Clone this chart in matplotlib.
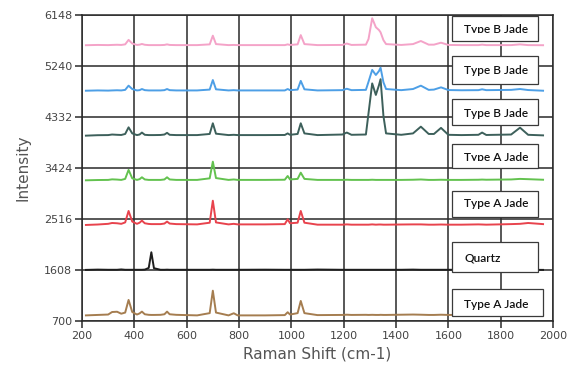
import matplotlib
matplotlib.use("Agg")
import matplotlib.pyplot as plt
from matplotlib.patches import Rectangle

# Raman shift sample points (cm-1)
shift = [215, 260, 300, 315, 334, 350, 365, 378, 392, 410, 420, 429, 440, 455, 465, 475,
         500, 515, 525, 535, 560, 640, 688, 700, 712, 760, 780, 795, 900, 975, 986, 995,
         1024, 1036, 1050, 1100, 1195, 1212, 1230, 1285, 1295, 1309, 1323, 1335, 1341, 1352,
         1362, 1420, 1465, 1495, 1525, 1545, 1572, 1600, 1650, 1715, 1729, 1745, 1840, 1874,
         1905, 1962]

type_b_1 = [5610, 5615, 5612, 5615, 5618, 5615, 5625, 5705, 5640, 5615, 5620, 5632, 5618, 5612, 5612, 5612,
            5612, 5615, 5625, 5615, 5612, 5612, 5625, 5780, 5630, 5612, 5615, 5612, 5612, 5612, 5625, 5615,
            5625, 5790, 5630, 5612, 5615, 5640, 5615, 5620, 5720, 6090, 5930, 5880, 5840, 5700,
            5630, 5615, 5630, 5685, 5620, 5620, 5655, 5615, 5612, 5612, 5620, 5612, 5612, 5625,
            5612, 5610]

type_b_2 = [4800, 4805, 4802, 4805, 4808, 4805, 4815, 4890, 4830, 4805, 4810, 4830, 4810, 4805, 4805, 4805,
            4805, 4810, 4830, 4810, 4805, 4805, 4820, 4990, 4825, 4805, 4810, 4805, 4805, 4805, 4830, 4810,
            4820, 4975, 4825, 4805, 4810, 4835, 4810, 4815, 4960, 5170, 5080, 5150, 5210, 4950,
            4830, 4810, 4830, 4890, 4815, 4820, 4860, 4812, 4808, 4810, 4825, 4810, 4815, 4830,
            4812, 4800]

type_b_3 = [4000, 4008, 4010, 4020, 4015, 4012, 4030, 4148, 4040, 4010, 4020, 4055, 4015, 4010, 4010, 4010,
            4012, 4020, 4050, 4015, 4010, 4010, 4030, 4220, 4035, 4010, 4015, 4010, 4010, 4012, 4040, 4015,
            4030, 4220, 4040, 4010, 4020, 4055, 4015, 4020, 4400, 4930, 4725, 4900, 5005, 4350,
            4040, 4015, 4040, 4160, 4030, 4030, 4138, 4015, 4010, 4015, 4055, 4012, 4020, 4142,
            4015, 4005]

type_a_1 = [3205, 3210, 3212, 3222, 3218, 3212, 3230, 3390, 3240, 3212, 3225, 3259, 3220, 3212, 3212, 3212,
            3212, 3220, 3259, 3220, 3212, 3212, 3240, 3537, 3245, 3212, 3220, 3212, 3212, 3215, 3282, 3220,
            3230, 3341, 3230, 3212, 3212, 3215, 3212, 3212, 3212, 3215, 3212, 3212, 3212, 3212,
            3212, 3212, 3215, 3220, 3212, 3212, 3215, 3212, 3212, 3215, 3218, 3215, 3220, 3230,
            3225, 3215]

type_a_2 = [2410, 2418, 2430, 2445, 2440, 2430, 2455, 2659, 2470, 2430, 2450, 2487, 2440, 2428, 2425, 2425,
            2425, 2435, 2470, 2435, 2425, 2420, 2450, 2842, 2455, 2420, 2430, 2420, 2420, 2425, 2511, 2440,
            2450, 2659, 2450, 2415, 2415, 2420, 2415, 2415, 2415, 2420, 2415, 2418, 2418, 2415,
            2415, 2418, 2420, 2420, 2415, 2415, 2418, 2415, 2415, 2420, 2418, 2415, 2425, 2430,
            2445, 2425]

quartz = [1610, 1615, 1612, 1612, 1612, 1618, 1612, 1612, 1612, 1612, 1612, 1612, 1615, 1645, 1924, 1640,
          1612, 1612, 1614, 1612, 1612, 1612, 1612, 1614, 1612, 1612, 1612, 1612, 1614, 1612, 1612, 1612,
          1612, 1612, 1612, 1616, 1612, 1612, 1612, 1612, 1612, 1612, 1612, 1612, 1612, 1612,
          1612, 1612, 1615, 1612, 1612, 1612, 1612, 1612, 1612, 1614, 1612, 1612, 1612, 1612,
          1612, 1610]

type_a_3 = [800, 808, 815, 860, 865, 830, 850, 1075, 860, 815, 835, 867, 820, 810, 808, 808,
            810, 820, 867, 820, 810, 800, 840, 1240, 850, 800, 838, 800, 800, 805, 856, 815,
            840, 1057, 840, 805, 808, 812, 808, 810, 808, 810, 808, 808, 810, 808,
            808, 812, 815, 812, 808, 808, 812, 808, 808, 810, 812, 808, 808, 812,
            810, 805]

series = [type_b_1, type_b_2, type_b_3, type_a_1, type_a_2, quartz, type_a_3]
colors = ["#f4a3c8", "#4d9fe6", "#3d605b", "#63c24f", "#e8434d", "#1e1e1e", "#a57d50"]

labels = ["Type B Jade", "Type B Jade", "Type B Jade", "Type A Jade", "Type A Jade", "Quartz", "Type A Jade"]

x_ticks = [200, 400, 600, 800, 1000, 1200, 1400, 1600, 1800, 2000]
y_ticks = [700, 1608, 2516, 3424, 4332, 5240, 6148]

# label box layout (data coords): x0, x1, y0, y1, text baseline, clip text at baseline
box_layout = [
    (1614, 1943, 5685, 6130, 5822, True),
    (1614, 1943, 4920, 5418, 5098, False),
    (1614, 1943, 4190, 4652, 4327, False),
    (1614, 1943, 3424, 3851, 3554, True),
    (1614, 1943, 2552, 3015, 2724, False),
    (1614, 1943, 1572, 2106, 1768, False),
    (1614, 1962, 789, 1270, 926, False),
]

fig = plt.figure(figsize=(5.86, 3.84), dpi=100)
ax = fig.add_axes([82 / 586, 63 / 384, 471 / 586, 306 / 384])

for ys, c in zip(series, colors):
    ax.plot(shift, ys, color=c, lw=1.4, zorder=3, solid_joinstyle="round")

ax.set_xlim(200, 2000)
ax.set_ylim(700, 6148)
ax.set_xticks(x_ticks)
ax.set_yticks(y_ticks)
ax.grid(True, color="#2a2a2a", lw=1.1, zorder=1)
ax.set_axisbelow(True)
for sp in ax.spines.values():
    sp.set_color("#2a2a2a")
    sp.set_linewidth(1.1)
ax.tick_params(axis="both", colors="#2a2a2a", labelcolor="#444444", labelsize=8,
               length=5, width=1.1, pad=2)

ax.set_xlabel("Raman Shift (cm-1)", fontsize=11, color="#555555", labelpad=4)
ax.set_ylabel("Intensity", fontsize=11, color="#555555", labelpad=10)

for lab, (x0, x1, y0, y1, yb, clip) in zip(labels, box_layout):
    r = Rectangle((x0, y0), x1 - x0, y1 - y0, facecolor="white", edgecolor="#3a3a3a",
                  lw=0.9, zorder=5)
    ax.add_patch(r)
    t = ax.text(1660, yb, lab, fontsize=8.6, family=["Lato", "DejaVu Sans"], color="#111111",
                weight="semibold", va="baseline", ha="left", zorder=6)
    if clip:
        cr = Rectangle((x0, yb), x1 - x0, y1 - yb, transform=ax.transData, facecolor="none")
        t.set_clip_on(True)
        t.set_clip_path(cr)

fig.savefig("out.png", dpi=100)
